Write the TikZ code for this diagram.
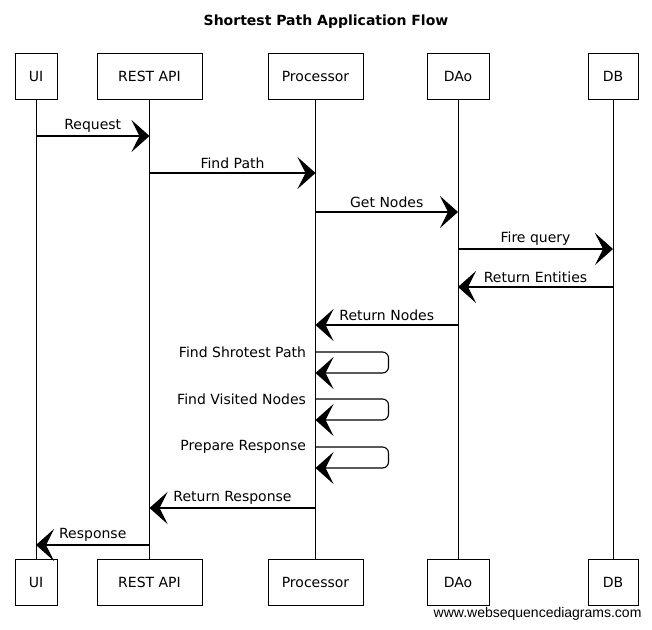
\documentclass[tikz,border=0pt]{standalone}
\usepackage{fontspec}
\setmainfont{DejaVu Sans}
\newfontfamily\webfont{Liberation Sans}
\usetikzlibrary{arrows.meta}

\begin{document}
\begin{tikzpicture}[x=1pt,y=-1pt,
  actor/.style={draw,line width=1pt,minimum height=46pt,inner sep=0pt,font=\fontsize{14}{16}\selectfont},
  msg/.style={line width=1.1pt,-{Stealth[length=18pt,width=32pt,inset=8pt]}},
  lbl/.style={font=\fontsize{14}{16}\selectfont}]
  \useasboundingbox (0,0) rectangle (652,629);
  \node[font=\bfseries\fontsize{14}{16}\selectfont] (title) at (326,22) {Shortest Path Application Flow};
  \foreach \n/\x/\w/\t in {ui/36/42/UI,api/149.5/105/REST API,proc/315.5/95/Processor,dao/458/62/DAo,db/613/50/DB} {
    \node[actor,minimum width=\w pt] (\n) at (\x,76.5) {\t};
    \node[actor,minimum width=\w pt] (\n-bot) at (\x,582.5) {\t};
    \draw[line width=1pt] (\n) -- (\n-bot);}
  \foreach \a/\b/\y/\t [count=\i] in {ui/api/136/Request,api/proc/173/Find Path,proc/dao/212/Get Nodes,dao/db/249/Fire query,db/dao/287/Return Entities,dao/proc/325/Return Nodes,proc/api/508/Return Response,api/ui/545/Response} {
    \coordinate (m\i-from) at (\a |- 0,\y);
    \coordinate (m\i-to) at (\b |- 0,\y);
    \draw[msg] (m\i-from) -- (m\i-to) node[lbl,midway,above=0pt] {\t};}
  \foreach \y/\t [count=\i] in {352/Find Shrotest Path,399/Find Visited Nodes,447/Prepare Response} {
    \coordinate (self\i-from) at (proc |- 0,\y);
    \coordinate (self\i-to) at (proc |- 0,\y+21);
    \draw[msg,rounded corners=6pt] (self\i-from) -- ++(73,0) |- (self\i-to);
    \node[lbl,anchor=east] (self\i-lbl) at ([xshift=-6pt]self\i-from) {\t};}
  \node[font=\webfont\fontsize{14}{16}\selectfont,anchor=east] (web) at (645,614) {www.websequencediagrams.com};
\end{tikzpicture}
\end{document}
